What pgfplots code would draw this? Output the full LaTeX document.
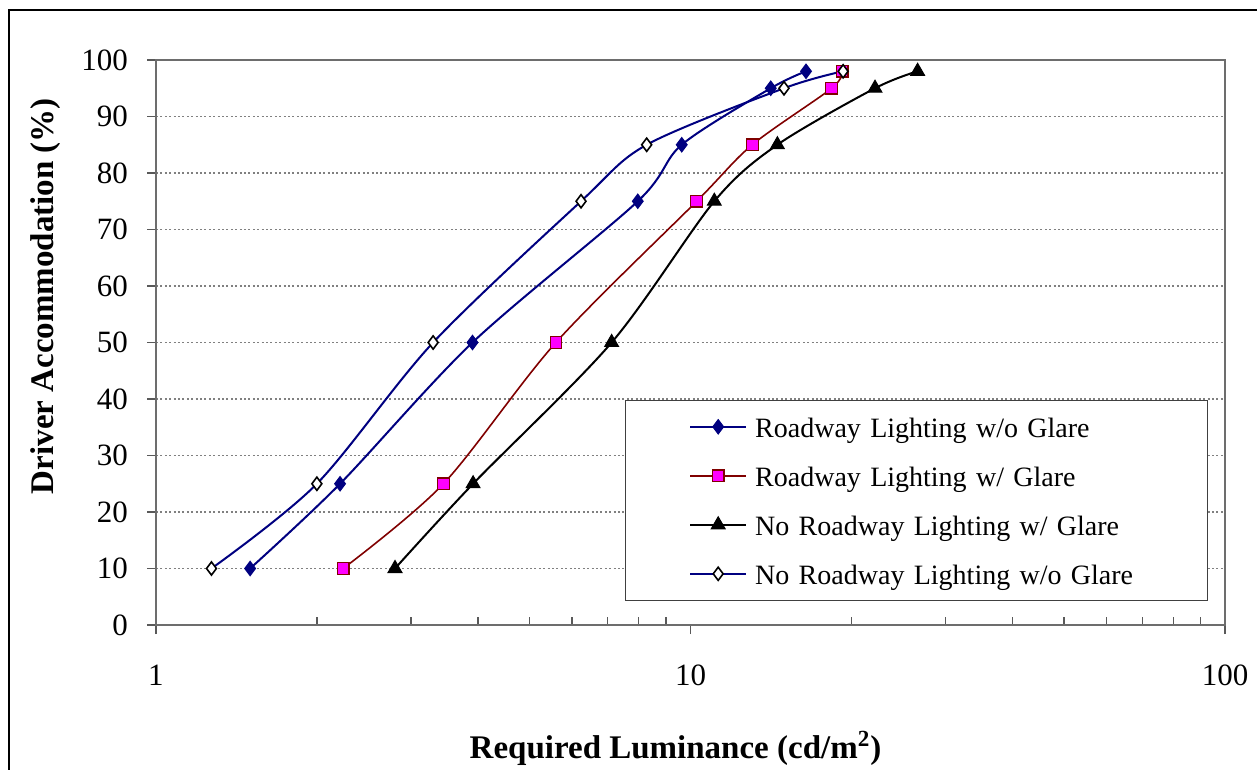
\documentclass[border=0pt]{standalone}
\usepackage{fontspec}
\setmainfont{Liberation Serif}
\usepackage{pgfplots}
\pgfplotsset{compat=1.18}
\definecolor{navy}{HTML}{000080}
\definecolor{maroon}{HTML}{800000}
\definecolor{pinkfill}{HTML}{FF00FF}
\definecolor{axgray}{HTML}{808080}
\begin{document}
\begin{tikzpicture}
\useasboundingbox (-78pt,-72.5pt) rectangle (550.5pt,312.5pt);
\begin{axis}[
  at={(0,0)}, anchor=south west,
  scale only axis, width=534.5pt, height=282.5pt,
  xmode=log, xmin=1, xmax=100, ymin=0, ymax=100,
  xtick={1,10,100}, xticklabels={\textrm{1},\textrm{10},\textrm{100}},
  minor xtick={2,3,4,5,6,7,8,9,20,30,40,50,60,70,80,90},
  ytick={0,10,...,100},
  xtick pos=bottom, ytick pos=left,
  tick align=outside,
  major tick length=4.5pt, minor tick length=4pt,
  minor x tick style={yshift=4pt},
  tick style={black!65, line width=0.7pt},
  axis line style={axgray!85!black, line width=1.1pt},
  ymajorgrids,
  major grid style={axgray, line width=0.6pt, dash pattern=on 1pt off 1.2pt},
  tick label style={font=\fontsize{15.5}{18}\selectfont, /pgf/number format/assume math mode=true},
  xticklabel style={yshift=-12pt},
  yticklabel style={xshift=-6pt},
  every axis y label/.style={at={(axis description cs:-0.103,0.582)}, rotate=90, anchor=center, font=\fontsize{16.5}{19}\selectfont\bfseries},
  every axis x label/.style={at={(axis description cs:0.486,-0.218)}, anchor=center, font=\fontsize{16.5}{19}\selectfont\bfseries},
  ylabel={Driver Accommodation (\%)},
  xlabel={Required Luminance (cd/m\textsuperscript{2})},
  legend style={at={(0.984,0.0425)}, anchor=south east, draw=black!75, line width=0.7pt,
    font=\fontsize{14}{17}\selectfont, inner xsep=15pt, inner ysep=7pt, row sep=12pt,
    nodes={text height=11.5pt, text depth=1pt, inner ysep=0pt, inner xsep=4pt, text width=207pt, align=left},
    cells={anchor=west}},
  legend image code/.code={\path (0pt,0pt); \draw[mark repeat=2,mark phase=2] plot coordinates {(17pt,0pt) (31pt,0pt) (45pt,0pt)};},
]
\addplot[navy, line width=1pt, smooth, mark=diamond*, mark size=3.6pt, mark options={fill=navy, draw=navy, line width=0.5pt}]
  coordinates {(1.50,10) (2.21,25) (3.91,50) (7.97,75) (9.63,85) (14.13,95) (16.45,98)};
\addlegendentry{Roadway Lighting w/o Glare}
\addplot[maroon, line width=0.8pt, smooth, mark=square*, mark size=2.9pt, mark options={fill=pinkfill, draw=maroon, line width=0.6pt}]
  coordinates {(2.24,10) (3.45,25) (5.60,50) (10.27,75) (13.05,85) (18.37,95) (19.23,98)};
\addlegendentry{Roadway Lighting w/ Glare}
\addplot[black, line width=1pt, smooth, mark=triangle*, mark size=4pt, mark options={fill=black, line width=0.5pt}]
  coordinates {(2.80,10) (3.92,25) (7.12,50) (11.08,75) (14.54,85) (22.14,95) (26.6,98)};
\addlegendentry{No Roadway Lighting w/ Glare}
\addplot[navy, line width=1pt, smooth, mark=diamond*, mark size=3.3pt, mark options={fill=white, draw=black, line width=0.8pt}]
  coordinates {(1.27,10) (2.00,25) (3.30,50) (6.24,75) (8.28,85) (14.96,95) (19.3,98)};
\addlegendentry{No Roadway Lighting w/o Glare}
\end{axis}
\draw[black, line width=1pt] (-73.5pt,-80pt) -- (-73.5pt,307.5pt) -- (560pt,307.5pt);
\end{tikzpicture}
\end{document}
